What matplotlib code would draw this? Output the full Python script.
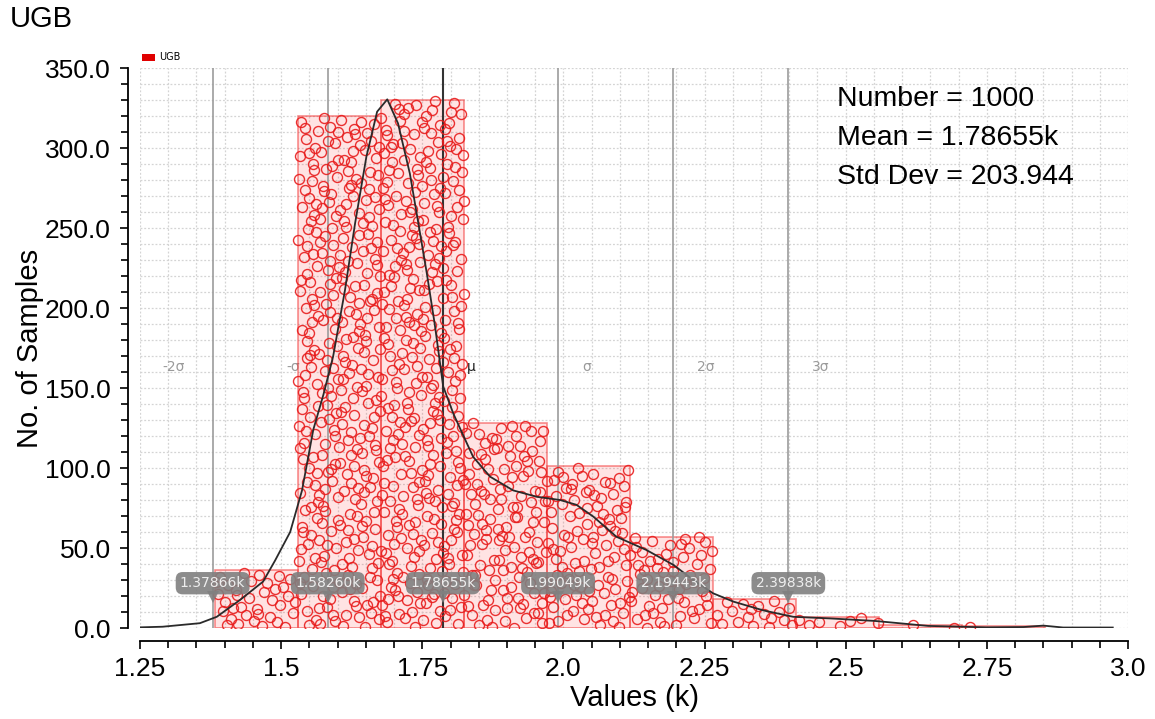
import numpy as np
import matplotlib
matplotlib.use("Agg")
import matplotlib.pyplot as plt
from matplotlib.patches import Rectangle
from matplotlib.ticker import MultipleLocator, FixedLocator, FixedFormatter

# ---- data -------------------------------------------------------------
series_name = "UGB"
bin_start = 1.383          # k
bin_width = 0.147          # k
bin_counts = [36, 320, 330, 128, 101, 57, 18, 7, 2, 1]

mean_k = 1.786546
std_k = 0.203944
sigma_steps = [-2, -1, 0, 1, 2, 3]
sigma_names = ["-2\u03c3", "-\u03c3", "\u03bc", "\u03c3", "2\u03c3", "3\u03c3"]

# density curve (scaled to sample counts)
curve_x = [1.25, 1.29, 1.356, 1.386, 1.427, 1.468, 1.489, 1.516, 1.537, 1.557,
           1.575, 1.592, 1.613, 1.631, 1.651, 1.670, 1.688, 1.707, 1.728, 1.743,
           1.758, 1.772, 1.787, 1.805, 1.823, 1.840, 1.870, 1.911, 1.953, 1.994,
           2.023, 2.053, 2.094, 2.147, 2.195, 2.230, 2.265, 2.301, 2.354, 2.407,
           2.472, 2.552, 2.646, 2.75, 2.815, 2.85, 2.885, 2.973]
curve_y = [0.4, 0.8, 3, 7, 17.5, 29, 42, 60, 86, 124,
           146, 169.6, 211, 253, 294.6, 322.7, 330.4, 315.4, 284, 253,
           221.7, 190, 151, 134, 120, 107, 94.6, 86, 82, 80,
           77, 69.6, 57, 48.75, 39.4, 30, 21.7, 16.5, 11, 7,
           6, 4.4, 1.3, 0.4, 0.6, 1.5, 0.3, 0.3]

x_ticks = [1.25, 1.5, 1.75, 2.0, 2.25, 2.5, 2.75, 3.0]
x_tick_labels = ["1.25", "1.5", "1.75", "2.0", "2.25", "2.5", "2.75", "3.0"]
y_ticks = [0, 50, 100, 150, 200, 250, 300, 350]
y_tick_labels = ["0.0", "50.0", "100.0", "150.0", "200.0", "250.0", "300.0", "350.0"]

# ---- figure -----------------------------------------------------------
plt.rcParams["font.family"] = ["Liberation Sans", "DejaVu Sans"]
fig = plt.figure(figsize=(11.55, 7.19), dpi=100)
ax = fig.add_axes([140 / 1155, 1 - 628 / 719, (1128 - 140) / 1155, (628 - 68) / 719])

ax.set_xlim(1.25, 3.0)
ax.set_ylim(0, 350)

# grid
ax.set_axisbelow(True)
ax.xaxis.set_minor_locator(MultipleLocator(0.05))
ax.yaxis.set_minor_locator(MultipleLocator(10))
ax.grid(which="both", color="#d4d4d4", linestyle=(0, (1.5, 1.5)), linewidth=0.9)

# spines
for s in ("top", "right"):
    ax.spines[s].set_visible(False)
for s in ("left", "bottom"):
    ax.spines[s].set_position(("outward", 9))
    ax.spines[s].set_linewidth(1.3)

ax.xaxis.set_major_locator(FixedLocator(x_ticks))
ax.xaxis.set_major_formatter(FixedFormatter(x_tick_labels))
ax.yaxis.set_major_locator(FixedLocator(y_ticks))
ax.yaxis.set_major_formatter(FixedFormatter(y_tick_labels))
ax.tick_params(which="both", direction="out", width=1.2)
ax.tick_params(which="major", length=6, labelsize=19, pad=6)
ax.tick_params(which="minor", length=5)

ax.set_xlabel("Values (k)", fontsize=21, labelpad=2)
ax.set_ylabel("No. of Samples", fontsize=21, labelpad=1)

# sigma text labels (behind the bars)
sigma_vals = [mean_k + k * std_k for k in sigma_steps]
for k, v, name in zip(sigma_steps, sigma_vals, sigma_names):
    if k < 0:
        ax.text(v - 0.05, 163, name, ha="right", va="center", fontsize=10,
                color="#9a9a9a", family="DejaVu Sans", zorder=1)
    else:
        ax.text(v + 0.042, 163, name, ha="left", va="center", fontsize=10,
                color="#222222" if k == 0 else "#9a9a9a",
                family="DejaVu Sans", zorder=1)

# histogram bars
edges = bin_start + bin_width * np.arange(len(bin_counts) + 1)
ax.bar(edges[:-1], bin_counts, width=bin_width, align="edge",
       facecolor=(1.0, 0.1, 0.1, 0.12), edgecolor=(0.95, 0.2, 0.2, 0.55),
       linewidth=1.2, zorder=2)

# sigma lines
for k, v in zip(sigma_steps, sigma_vals):
    ax.axvline(v, color="#333333" if k == 0 else "#9c9c9c",
               linewidth=1.5 if k == 0 else 1.2, zorder=3)


# sample markers spread over each bar (deterministic low-discrepancy jitter)
def halton(i, base):
    f, r = 1.0, 0.0
    while i > 0:
        f /= base
        r += f * (i % base)
        i //= base
    return r


px, py = [], []
idx = 1
for lo, n in zip(edges[:-1], bin_counts):
    for _ in range(n):
        px.append(lo + bin_width * halton(idx, 2))
        py.append(n * halton(idx, 3))
        idx += 1
ax.plot(px, py, linestyle="none", marker="o", markersize=7.2,
        markerfacecolor="none", markeredgecolor="#e81c1c",
        markeredgewidth=1.0, alpha=0.9, zorder=4)

# density curve
ax.plot(curve_x, curve_y, color="#2a2a2a", linewidth=1.3, zorder=5)

# value flags on sigma lines
for v in sigma_vals:
    ax.plot([v], [19.5], marker="v", markersize=8, color="#808080",
            alpha=0.9, zorder=6, markeredgewidth=0)
    ax.text(v, 28, f"{v:.5f}k", ha="center", va="center", fontsize=10,
            family="DejaVu Sans", color="#eeeeee", zorder=7,
            bbox=dict(boxstyle="round,pad=0.3,rounding_size=0.5",
                      facecolor="#808080", edgecolor="none", alpha=0.9))

# statistics
n_total = sum(bin_counts)
stats = [f"Number = {n_total}", f"Mean = {mean_k:.5f}k",
         f"Std Dev = {std_k * 1000:.3f}"]
for i, line in enumerate(stats):
    ax.text(837 / 1155, 1 - (99 + 39 * i) / 719, line, transform=fig.transFigure,
            ha="left", va="center", fontsize=20.5, color="black", zorder=8)

# title and legend
fig.text(10 / 1155, 1 - 19 / 719, series_name, ha="left", va="center", fontsize=21)
fig.patches.append(Rectangle((142 / 1155, 1 - 61 / 719), 13 / 1155, 7 / 719,
                             transform=fig.transFigure, facecolor="#e00000",
                             edgecolor="none"))
fig.text(159 / 1155, 1 - 57.5 / 719, series_name, ha="left", va="center",
         fontsize=7, family="DejaVu Sans")

fig.savefig("out.png", dpi=100)
